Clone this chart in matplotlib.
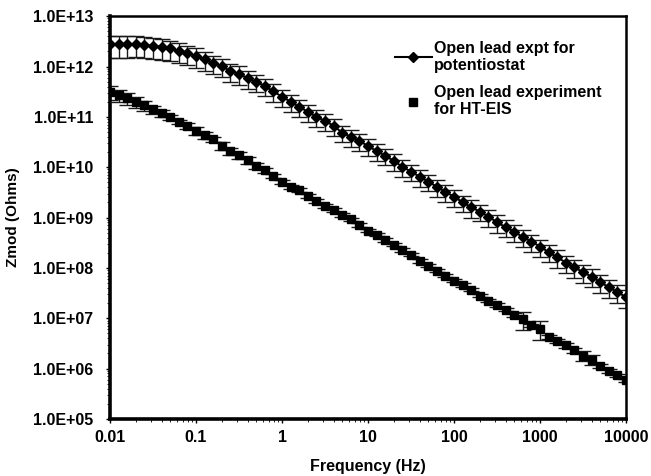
import numpy as np
import matplotlib
matplotlib.use("Agg")
import matplotlib.pyplot as plt
from matplotlib.ticker import FuncFormatter, LogLocator, NullFormatter

plt.rcParams['font.family'] = ['Liberation Sans', 'DejaVu Sans']
plt.rcParams['font.weight'] = 'bold'

# Frecuencias (Hz), 10 puntos por década
freq = [0.01, 0.0126, 0.0158, 0.02, 0.0251, 0.0316, 0.0398, 0.0501, 0.0631, 0.0794,
        0.1, 0.126, 0.158, 0.2, 0.251, 0.316, 0.398, 0.501, 0.631, 0.794,
        1, 1.26, 1.58, 2, 2.51, 3.16, 3.98, 5.01, 6.31, 7.94,
        10, 12.6, 15.8, 20, 25.1, 31.6, 39.8, 50.1, 63.1, 79.4,
        100, 126, 158, 200, 251, 316, 398, 501, 631, 794,
        1000, 1260, 1580, 2000, 2510, 3160, 3980, 5010, 6310, 7940,
        10000]

# Zmod (Ohms) - potenciostato
z_pot = [2.78e12, 2.78e12, 2.78e12, 2.78e12, 2.66e12, 2.54e12, 2.45e12, 2.29e12, 2.04e12, 1.82e12,
         1.62e12, 1.38e12, 1.17e12, 1.02e12, 8.1e11, 7.2e11, 5.8e11, 5.0e11, 4.1e11, 3.2e11,
         2.51e11, 2.0e11, 1.58e11, 1.26e11, 1.0e11, 8.3e10, 6.65e10, 4.84e10, 4.03e10, 3.31e10,
         2.64e10, 2.09e10, 1.69e10, 1.33e10, 1.02e10, 8.15e9, 6.49e9, 5.15e9, 4.1e9, 3.22e9,
         2.6e9, 2.01e9, 1.6e9, 1.31e9, 1.04e9, 8.07e8, 6.43e8, 5.25e8, 4.06e8, 3.33e8,
         2.65e8, 2.05e8, 1.63e8, 1.27e8, 1.03e8, 8.2e7, 6.7e7, 5.2e7, 4.14e7, 3.3e7,
         2.62e7]
# error relativo (fracción)
err_pot = [0.47, 0.47, 0.46, 0.45, 0.45, 0.44, 0.44, 0.43, 0.42, 0.42,
           0.41, 0.40, 0.40, 0.40, 0.39, 0.40, 0.38, 0.38, 0.38, 0.38,
           0.38, 0.37, 0.37, 0.36, 0.36, 0.38, 0.36, 0.36, 0.37, 0.36,
           0.36, 0.37, 0.36, 0.36, 0.37, 0.36, 0.38, 0.36, 0.37, 0.36,
           0.37, 0.36, 0.38, 0.36, 0.37, 0.38, 0.37, 0.38, 0.37, 0.38,
           0.38, 0.37, 0.38, 0.38, 0.39, 0.38, 0.39, 0.39, 0.40, 0.39,
           0.40]

# Zmod (Ohms) - HT-EIS
z_ht = [3.15e11, 2.71e11, 2.33e11, 2.0e11, 1.71e11, 1.41e11, 1.17e11, 9.8e10, 8.0e10, 6.65e10,
        5.3e10, 4.36e10, 3.58e10, 2.64e10, 2.12e10, 1.75e10, 1.39e10, 1.06e10, 8.8e9, 6.7e9,
        5.15e9, 4.1e9, 3.53e9, 2.69e9, 2.16e9, 1.7e9, 1.42e9, 1.13e9, 9.25e8, 7.13e8,
        5.5e8, 4.52e8, 3.6e8, 2.86e8, 2.28e8, 1.81e8, 1.38e8, 1.1e8, 8.83e7, 6.93e7,
        5.6e7, 4.6e7, 3.66e7, 2.82e7, 2.24e7, 1.85e7, 1.47e7, 1.17e7, 9.6e6, 7.2e6,
        6.2e6, 4.2e6, 3.56e6, 2.87e6, 2.29e6, 1.79e6, 1.5e6, 1.14e6, 9.0e5, 7.3e5,
        5.8e5]
err_ht = [0.30, 0.26, 0.25, 0.24, 0.22, 0.18, 0.17, 0.12, 0.10, 0.12,
          0.16, 0.15, 0.13, 0.18, 0.16, 0.15, 0.17, 0.14, 0.12, 0.10,
          0.08, 0.10, 0.08, 0.10, 0.08, 0.09, 0.08, 0.08, 0.07, 0.08,
          0.08, 0.07, 0.08, 0.07, 0.08, 0.07, 0.08, 0.07, 0.08, 0.07,
          0.08, 0.08, 0.07, 0.08, 0.07, 0.08, 0.07, 0.10, 0.38, 0.08,
          0.40, 0.08, 0.08, 0.10, 0.12, 0.22, 0.22, 0.10, 0.08, 0.08,
          0.08]

label_pot = "Open lead expt for\npotentiostat"
label_ht = "Open lead experiment\nfor HT-EIS"
xtick_vals = [0.01, 0.1, 1, 10, 100, 1000, 10000]
xtick_labels = ["0.01", "0.1", "1", "10", "100", "1000", "10000"]

z_pot = np.array(z_pot)
z_ht = np.array(z_ht)

fig = plt.figure(figsize=(6.51, 4.76), dpi=100)
ax = fig.add_axes([0.169, 0.120, 0.7926, 0.846])

ax.errorbar(freq, z_pot, yerr=z_pot * np.array(err_pot), fmt='none',
            ecolor='#1a1a1a', elinewidth=1.0, capsize=5.5, capthick=1.0, zorder=2)
ax.errorbar(freq, z_ht, yerr=z_ht * np.array(err_ht), fmt='none',
            ecolor='#1a1a1a', elinewidth=1.0, capsize=5.5, capthick=1.0, zorder=2)
ax.plot(freq, z_pot, color='black', lw=1.5, marker='D', markersize=5.5,
        label=label_pot, zorder=3)
ax.plot(freq, z_ht, color='black', lw=0, marker='s', markersize=5.5,
        label=label_ht, zorder=3)

ax.set_xscale('log')
ax.set_yscale('log')
ax.set_xlim(0.01, 10000)
ax.set_ylim(1e5, 1e13)

ax.set_xticks(xtick_vals)
ax.set_xticklabels(xtick_labels)
ax.xaxis.set_minor_formatter(NullFormatter())
ax.yaxis.set_major_locator(LogLocator(base=10, numticks=20))
ax.yaxis.set_major_formatter(FuncFormatter(lambda v, p: f"{v:.1E}"))
ax.yaxis.set_minor_locator(LogLocator(base=10, subs=np.arange(2, 10), numticks=50))
ax.yaxis.set_minor_formatter(NullFormatter())

ax.tick_params(which='major', direction='out', length=3, width=1, labelsize=11.5)
ax.tick_params(axis='y', which='major', pad=9)
ax.tick_params(axis='x', which='major', pad=5)
ax.tick_params(which='minor', direction='out', length=2, width=0.6)

for side in ['left', 'bottom']:
    ax.spines[side].set_linewidth(2.6)
for side in ['top', 'right']:
    ax.spines[side].set_linewidth(1.8)

ax.set_xlabel('Frequency (Hz)', fontsize=11.5, fontweight='bold', labelpad=10)
ax.set_ylabel('Zmod (Ohms)', fontsize=11, fontweight='bold', labelpad=9)

leg = ax.legend(loc='upper left', bbox_to_anchor=(0.54, 0.955), frameon=False,
                fontsize=11.5, handlelength=2.3, handletextpad=0.15,
                labelspacing=0.75, borderaxespad=0, markerscale=0.95)

fig.savefig('out.png', dpi=100)
